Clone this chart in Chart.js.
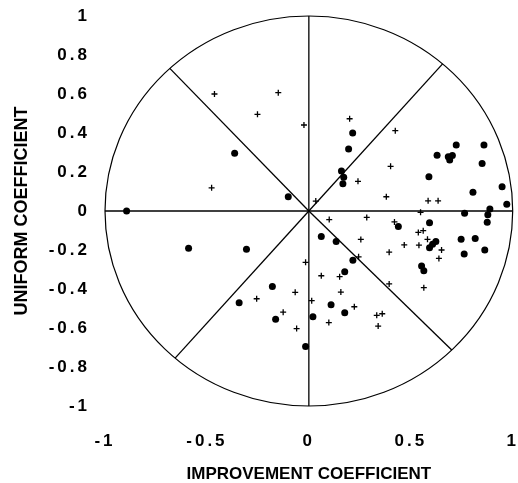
<!DOCTYPE html>
<html>
<head>
<meta charset="utf-8">
<script src="https://cdn.jsdelivr.net/npm/chart.js@4.4.1/dist/chart.umd.min.js"></script>
<style>
  html, body { margin: 0; padding: 0; background: #fff; }
</style>
</head>
<body>
<canvas id="chart" width="518" height="483"></canvas>
<script>
// Data titik bulat (improvement, uniform)
const dotX = [-0.894, -0.364, -0.101, 0.215, 0.195, 0.160, 0.171, 0.167, 0.589, 0.629,
  0.684, 0.691, 0.704, 0.723, 0.859, 0.850, 0.805, 0.948, 0.971, 0.764,
  0.888, 0.878, 0.875, 0.439, 0.592, 0.061, 0.134, 0.623, 0.607, 0.592,
  0.747, 0.816, 0.762, 0.863, 0.216, 0.176, 0.553, 0.564, -0.306, -0.590,
  -0.179, -0.342, 0.109, 0.176, -0.163, 0.020, -0.016];
const dotY = [0.000, 0.296, 0.073, 0.400, 0.318, 0.205, 0.173, 0.140, 0.176, 0.286,
  0.278, 0.262, 0.284, 0.338, 0.338, 0.243, 0.096, 0.125, 0.034, -0.012,
  0.010, -0.019, -0.058, -0.079, -0.060, -0.131, -0.156, -0.157, -0.171, -0.188,
  -0.145, -0.141, -0.221, -0.200, -0.252, -0.312, -0.282, -0.307, -0.196, -0.191,
  -0.387, -0.470, -0.481, -0.522, -0.555, -0.542, -0.695];

// Data titik plus
const plusX = [-0.463, -0.252, -0.477, -0.150, -0.024, 0.200, 0.424, 0.401, 0.241, 0.034,
  0.380, 0.585, 0.634, 0.548, 0.100, 0.284, 0.420, 0.537, 0.561, 0.582,
  0.255, 0.468, 0.540, 0.651, 0.638, 0.394, 0.244, -0.016, 0.061, 0.151,
  0.394, 0.564, -0.067, 0.157, -0.256, 0.014, 0.223, -0.126, 0.333, 0.360,
  0.098, 0.340, -0.060];
const plusY = [0.600, 0.496, 0.119, 0.607, 0.441, 0.473, 0.412, 0.229, 0.152, 0.051,
  0.073, 0.052, 0.052, -0.007, -0.044, -0.033, -0.056, -0.110, -0.101, -0.145,
  -0.146, -0.174, -0.175, -0.200, -0.243, -0.211, -0.235, -0.263, -0.332, -0.337,
  -0.374, -0.393, -0.417, -0.416, -0.450, -0.460, -0.491, -0.519, -0.535, -0.527,
  -0.572, -0.590, -0.603];

// Label sumbu
const xTicks = [-1, -0.5, 0, 0.5, 1];
const xTickLabels = ['-1', '-0.5', '0', '0.5', '1'];
const yTicks = [-1, -0.8, -0.6, -0.4, -0.2, 0, 0.2, 0.4, 0.6, 0.8, 1];
const yTickLabels = ['-1', '-0.8', '-0.6', '-0.4', '-0.2', '0', '0.2', '0.4', '0.6', '0.8', '1'];

// Sudut garis jari-jari (derajat)
const spokeAngles = [0, 49, 90, 133, 180, 229, 270, 314.5];

function toPoints(xs, ys) {
  return xs.map((x, i) => ({ x: x, y: ys[i] }));
}

// Plugin untuk lingkaran dan garis jari-jari
const wheelPlugin = {
  id: 'wheel',
  beforeDraw(chart) {
    chart.ctx.letterSpacing = '0px';
  },
  beforeDatasetsDraw(chart) {
    const { ctx, scales: { x, y } } = chart;
    const cx = x.getPixelForValue(0);
    const cy = y.getPixelForValue(0);
    const rx = x.getPixelForValue(1) - cx;
    const ry = cy - y.getPixelForValue(1);
    ctx.save();
    ctx.strokeStyle = '#000';
    ctx.lineWidth = 1.2;
    ctx.beginPath();
    ctx.ellipse(cx, cy, rx, ry, 0, 0, Math.PI * 2);
    ctx.stroke();
    ctx.lineWidth = 1.3;
    spokeAngles.forEach(a => {
      const t = a * Math.PI / 180;
      ctx.beginPath();
      ctx.moveTo(cx, cy);
      ctx.lineTo(x.getPixelForValue(Math.cos(t)), y.getPixelForValue(Math.sin(t)));
      ctx.stroke();
    });
    ctx.restore();
  },
  afterDatasetsDraw(chart) {
    // label angka agak renggang seperti aslinya
    chart.ctx.letterSpacing = '3px';
  },
  afterDraw(chart) {
    chart.ctx.letterSpacing = '0px';
  }
};

const tickFont = { family: 'Liberation Sans', size: 17, weight: 'bold' };

new Chart(document.getElementById('chart').getContext('2d'), {
  type: 'scatter',
  data: {
    datasets: [{
      data: toPoints(dotX, dotY),
      pointStyle: 'circle',
      pointRadius: 3.5,
      backgroundColor: '#000',
      borderWidth: 0
    }, {
      data: toPoints(plusX, plusY),
      pointStyle: 'cross',
      pointRadius: 3,
      borderColor: '#000',
      borderWidth: 1.3
    }]
  },
  options: {
    responsive: false,
    animation: false,
    events: [],
    layout: { padding: { top: 16, right: 3, left: 0, bottom: 0 } },
    plugins: { legend: { display: false }, tooltip: { enabled: false } },
    scales: {
      x: {
        type: 'linear', min: -1, max: 1,
        grid: { display: false, drawTicks: false },
        border: { display: false },
        afterBuildTicks: s => { s.ticks = xTicks.map(v => ({ value: v })); },
        afterFit: s => { s.height = 77; s.paddingLeft = 0; s.paddingRight = 0; },
        ticks: {
          z: 1, padding: 25, color: '#000', font: tickFont, maxRotation: 0,
          callback: (v, i) => xTickLabels[i]
        },
        title: {
          display: true, text: 'IMPROVEMENT COEFFICIENT', color: '#000', padding: 0,
          font: { family: 'Liberation Sans', size: 17, weight: 'bold', lineHeight: 1 }
        }
      },
      y: {
        type: 'linear', min: -1, max: 1,
        grid: { display: false, drawTicks: false },
        border: { display: false },
        afterBuildTicks: s => { s.ticks = yTicks.map(v => ({ value: v })); },
        afterFit: s => { s.width = 105; s.paddingTop = 0; s.paddingBottom = 0; },
        ticks: {
          z: 1, padding: 15, color: '#000', font: tickFont,
          callback: (v, i) => yTickLabels[i]
        },
        title: {
          display: true, text: 'UNIFORM COEFFICIENT', color: '#000', padding: { top: 13 },
          font: { family: 'Liberation Sans', size: 18, weight: 'bold', lineHeight: 1 }
        }
      }
    }
  },
  plugins: [wheelPlugin]
});
</script>
</body>
</html>
